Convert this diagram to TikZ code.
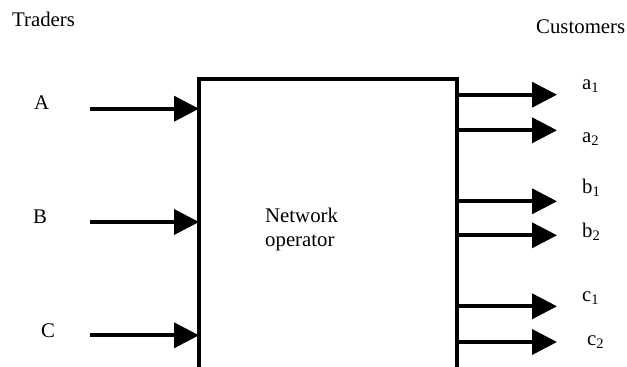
\documentclass[tikz,border=0pt]{standalone}
\usepackage{fontspec}
\setmainfont{Liberation Serif}
\usetikzlibrary{arrows.meta}
\begin{document}
\begin{tikzpicture}[x=1pt,y=-1pt,
  lbl/.style={inner sep=0pt, anchor=base west, font=\fontsize{20.8}{24}\selectfont},
  flow/.style={line width=3.8pt, -{Triangle[length=25pt,width=25pt]}},
  wall/.style={draw, line width=3.8pt, rectangle, inner sep=0pt, outer sep=0pt}]
\useasboundingbox (0,0) rectangle (627,367);
\clip (0,0) rectangle (627,367);

% operator block (its lower edge runs past the page)
\node[wall, minimum width=258pt, minimum height=340pt, anchor=north west] (net) at (199,79.3) {};
\node[lbl, anchor=north west, align=left] (nettext) at (265,207.5) {Network\\operator};

% headings
\node[lbl] (traders) at (12,26.7) {Traders};
\node[lbl] (customers) at (536,33) {Customers};

% traders feeding in
\node[lbl] (lA) at (34,109.5) {A};
\node[lbl] (lB) at (33,223) {B};
\node[lbl] (lC) at (41,337) {C};
\coordinate (sA) at (90,108.7);
\coordinate (sB) at (90,222);
\coordinate (sC) at (90,335.3);
\draw[flow] (sA) -- (sA -| net.west);
\draw[flow] (sB) -- (sB -| net.west);
\draw[flow] (sC) -- (sC -| net.west);

% customers fed out
\node[lbl] (la1) at (582,89) {a\textsubscript{1}};
\node[lbl] (la2) at (582,142) {a\textsubscript{2}};
\node[lbl] (lb1) at (582,193) {b\textsubscript{1}};
\node[lbl] (lb2) at (582,237) {b\textsubscript{2}};
\node[lbl] (lc1) at (582,301) {c\textsubscript{1}};
\node[lbl] (lc2) at (587,345) {c\textsubscript{2}};
\coordinate (ta1) at (557,94.7);
\coordinate (ta2) at (557,130.3);
\coordinate (tb1) at (557,201.3);
\coordinate (tb2) at (557,235.3);
\coordinate (tc1) at (557,306.3);
\coordinate (tc2) at (557,342);
\foreach \t in {ta1,ta2,tb1,tb2,tc1,tc2}
  \draw[flow] (\t -| net.east) -- (\t);
\end{tikzpicture}
\end{document}
